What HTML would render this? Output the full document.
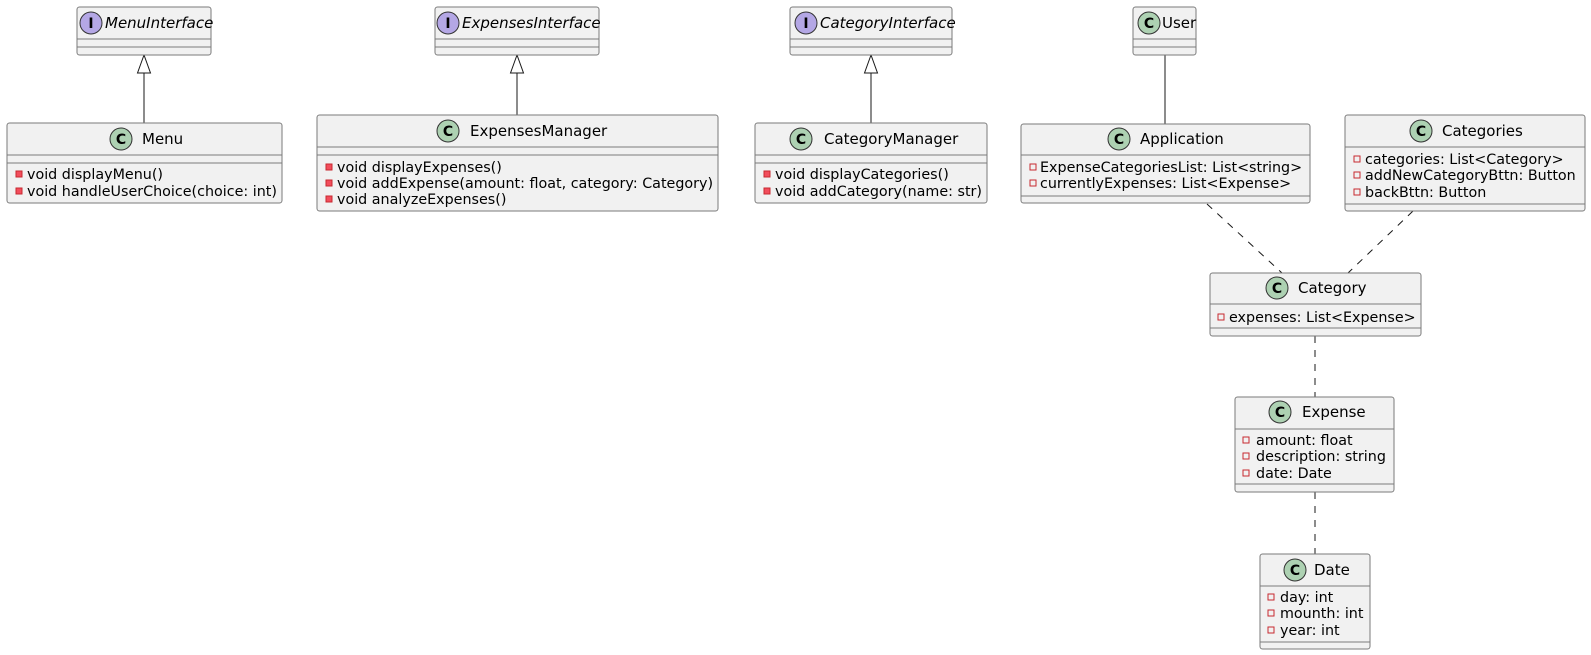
<!DOCTYPE html>
<html><head><meta charset="utf-8"><style>
html,body{margin:0;padding:0;background:#fff;}
svg{display:block;}
text{font-family:"DejaVu Sans","Liberation Sans",sans-serif;font-size:14.3px;fill:#000;}
.t{font-size:15px;}
.box{fill:#F1F1F1;stroke:#7a7a7a;stroke-width:1;}
.sep{stroke:#7a7a7a;stroke-width:1;}
.cc{fill:#ADD1B2;stroke:#333;stroke-width:1;}
.ci{fill:#B4A7E5;stroke:#333;stroke-width:1;}
.lt{font-weight:bold;font-size:14px;text-anchor:middle;}
.it{font-style:italic;}
.fld{fill:none;stroke:#C82930;stroke-width:1;}
.mth{fill:#F24D5C;stroke:#C82930;stroke-width:1;}
.ln{stroke:#181818;stroke-width:1;fill:none;}
.dl{stroke:#181818;stroke-width:1;fill:none;stroke-dasharray:7,7;}
</style></head><body>
<svg width="1591" height="655" viewBox="0 0 1591 655" xmlns="http://www.w3.org/2000/svg">
<line class="ln" x1="144" y1="73" x2="144" y2="123"/>
<polygon points="144,55 137.5,73 150.5,73" fill="none" stroke="#181818"/>
<line class="ln" x1="517" y1="73" x2="517" y2="115"/>
<polygon points="517,55 510.5,73 523.5,73" fill="none" stroke="#181818"/>
<line class="ln" x1="871" y1="73" x2="871" y2="123"/>
<polygon points="871,55 864.5,73 877.5,73" fill="none" stroke="#181818"/>
<line class="ln" x1="1165" y1="55" x2="1165" y2="124"/>
<line class="dl" x1="1207" y1="204" x2="1282" y2="273"/>
<line class="dl" x1="1413" y1="211" x2="1348" y2="273"/>
<line class="dl" x1="1315" y1="336" x2="1315" y2="397"/>
<line class="dl" x1="1315" y1="492" x2="1315" y2="554"/>

<rect class="box" x="77" y="7" width="134" height="48" rx="2.5"/>
<line class="sep" x1="77" y1="39" x2="211" y2="39"/><line class="sep" x1="77" y1="47" x2="211" y2="47"/>
<circle class="ci" cx="91" cy="23" r="11"/><text class="lt" x="91" y="28">I</text>
<text class="it t" x="105" y="28">MenuInterface</text>

<rect class="box" x="7" y="123" width="275" height="80" rx="2.5"/>
<line class="sep" x1="7" y1="155" x2="282" y2="155"/><line class="sep" x1="7" y1="163" x2="282" y2="163"/>
<circle class="cc" cx="121" cy="139" r="11"/><text class="lt" x="121" y="144">C</text>
<text class="t" x="142" y="144">Menu</text>
<rect class="mth" x="16" y="171" width="6" height="6"/><text x="27" y="179">void displayMenu()</text>
<rect class="mth" x="16" y="188" width="6" height="6"/><text x="27" y="196">void handleUserChoice(choice: int)</text>

<rect class="box" x="435" y="7" width="164" height="48" rx="2.5"/>
<line class="sep" x1="435" y1="39" x2="599" y2="39"/><line class="sep" x1="435" y1="47" x2="599" y2="47"/>
<circle class="ci" cx="448" cy="23" r="11"/><text class="lt" x="448" y="28">I</text>
<text class="it t" x="462" y="28">ExpensesInterface</text>

<rect class="box" x="317" y="115" width="401" height="96" rx="2.5"/>
<line class="sep" x1="317" y1="147" x2="718" y2="147"/><line class="sep" x1="317" y1="155" x2="718" y2="155"/>
<circle class="cc" cx="448" cy="131" r="11"/><text class="lt" x="448" y="136">C</text>
<text class="t" x="470" y="136">ExpensesManager</text>
<rect class="mth" x="326" y="164" width="6" height="6"/><text x="337" y="172">void displayExpenses()</text>
<rect class="mth" x="326" y="180" width="6" height="6"/><text x="337" y="188">void addExpense(amount: float, category: Category)</text>
<rect class="mth" x="326" y="196" width="6" height="6"/><text x="337" y="204">void analyzeExpenses()</text>

<rect class="box" x="790" y="7" width="162" height="48" rx="2.5"/>
<line class="sep" x1="790" y1="39" x2="952" y2="39"/><line class="sep" x1="790" y1="47" x2="952" y2="47"/>
<circle class="ci" cx="806" cy="23" r="11"/><text class="lt" x="806" y="28">I</text>
<text class="it t" x="820" y="28">CategoryInterface</text>

<rect class="box" x="755" y="123" width="232" height="80" rx="2.5"/>
<line class="sep" x1="755" y1="155" x2="987" y2="155"/><line class="sep" x1="755" y1="163" x2="987" y2="163"/>
<circle class="cc" cx="801" cy="139" r="11"/><text class="lt" x="801" y="144">C</text>
<text class="t" x="824" y="144">CategoryManager</text>
<rect class="mth" x="764" y="171" width="6" height="6"/><text x="775" y="179">void displayCategories()</text>
<rect class="mth" x="764" y="188" width="6" height="6"/><text x="775" y="196">void addCategory(name: str)</text>

<rect class="box" x="1133" y="7" width="63" height="48" rx="2.5"/>
<line class="sep" x1="1133" y1="39" x2="1196" y2="39"/><line class="sep" x1="1133" y1="47" x2="1196" y2="47"/>
<circle class="cc" cx="1149" cy="23" r="11"/><text class="lt" x="1149" y="28">C</text>
<text class="t" x="1162" y="28">User</text>

<rect class="box" x="1021" y="124" width="289" height="79" rx="2.5"/>
<line class="sep" x1="1021" y1="155" x2="1310" y2="155"/><line class="sep" x1="1021" y1="196" x2="1310" y2="196"/>
<circle class="cc" cx="1119" cy="139" r="11"/><text class="lt" x="1119" y="144">C</text>
<text class="t" x="1140" y="144">Application</text>
<rect class="fld" x="1030" y="164" width="6" height="6"/><text x="1040" y="172">ExpenseCategoriesList: List&lt;string&gt;</text>
<rect class="fld" x="1030" y="180" width="6" height="6"/><text x="1040" y="188">currentlyExpenses: List&lt;Expense&gt;</text>

<rect class="box" x="1345" y="115" width="240" height="96" rx="2.5"/>
<line class="sep" x1="1345" y1="147" x2="1585" y2="147"/><line class="sep" x1="1345" y1="204" x2="1585" y2="204"/>
<circle class="cc" cx="1421" cy="131" r="11"/><text class="lt" x="1421" y="136">C</text>
<text class="t" x="1442" y="136">Categories</text>
<rect class="fld" x="1354" y="156" width="6" height="6"/><text x="1365" y="164">categories: List&lt;Category&gt;</text>
<rect class="fld" x="1354" y="172" width="6" height="6"/><text x="1365" y="180">addNewCategoryBttn: Button</text>
<rect class="fld" x="1354" y="189" width="6" height="6"/><text x="1365" y="197">backBttn: Button</text>

<rect class="box" x="1210" y="273" width="211" height="63" rx="2.5"/>
<line class="sep" x1="1210" y1="304" x2="1421" y2="304"/><line class="sep" x1="1210" y1="328" x2="1421" y2="328"/>
<circle class="cc" cx="1277" cy="288" r="11"/><text class="lt" x="1277" y="293">C</text>
<text class="t" x="1298" y="293">Category</text>
<rect class="fld" x="1218" y="314" width="6" height="6"/><text x="1229" y="322">expenses: List&lt;Expense&gt;</text>

<rect class="box" x="1235" y="397" width="159" height="95" rx="2.5"/>
<line class="sep" x1="1235" y1="429" x2="1394" y2="429"/><line class="sep" x1="1235" y1="484" x2="1394" y2="484"/>
<circle class="cc" cx="1280" cy="412" r="11"/><text class="lt" x="1280" y="417">C</text>
<text class="t" x="1302" y="417">Expense</text>
<rect class="fld" x="1243" y="437" width="6" height="6"/><text x="1256" y="445">amount: float</text>
<rect class="fld" x="1243" y="453" width="6" height="6"/><text x="1256" y="461">description: string</text>
<rect class="fld" x="1243" y="470" width="6" height="6"/><text x="1256" y="478">date: Date</text>

<rect class="box" x="1260" y="554" width="110" height="95" rx="2.5"/>
<line class="sep" x1="1260" y1="586" x2="1370" y2="586"/><line class="sep" x1="1260" y1="642" x2="1370" y2="642"/>
<circle class="cc" cx="1295" cy="570" r="11"/><text class="lt" x="1295" y="575">C</text>
<text class="t" x="1314" y="575">Date</text>
<rect class="fld" x="1268" y="594" width="6" height="6"/><text x="1280" y="602">day: int</text>
<rect class="fld" x="1268" y="610" width="6" height="6"/><text x="1280" y="618">mounth: int</text>
<rect class="fld" x="1268" y="627" width="6" height="6"/><text x="1280" y="635">year: int</text>
</svg>
</body></html>
